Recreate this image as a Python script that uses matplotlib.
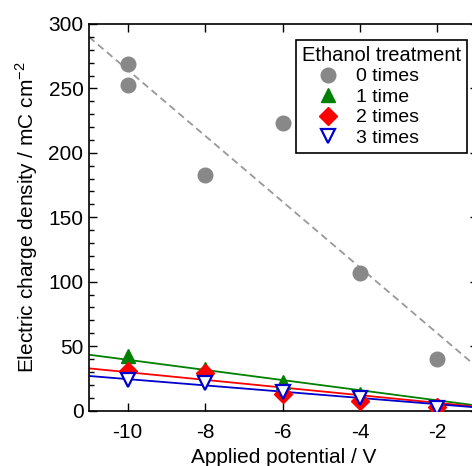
''' plot.py - electric charge density vs applied potential '''
import numpy as np
import matplotlib
matplotlib.use('Agg')
import matplotlib.pyplot as plt
from matplotlib.ticker import MultipleLocator

potential = [-10, -8, -6, -4, -2]
potential_0 = [-10, -10, -8, -6, -4, -2]

charge_0 = [269, 253, 183, 223, 107, 40]
charge_1 = [42, 32, 22, 13, 3]
charge_2 = [31, 29, 13, 7, 3]
charge_3 = [24, 21, 14, 10, 2]

labels = ['0 times', '1 time', '2 times', '3 times']


def origin_slope(x, y):
    ''' least squares slope for a line through the origin '''
    x = np.asarray(x, float)
    y = np.asarray(y, float)
    return np.sum(x * y) / np.sum(x * x)


def main():
    plt.rcParams['font.family'] = ['Liberation Sans', 'DejaVu Sans']
    plt.rcParams['mathtext.fontset'] = 'custom'
    plt.rcParams['mathtext.rm'] = 'Liberation Sans'
    plt.rcParams['axes.unicode_minus'] = False

    fig = plt.figure(figsize=(4.72, 4.66), dpi=100)
    # right spine sits just past the picture edge, as in the source
    ax = fig.add_axes([89 / 472, 1 - 410.5 / 466, 389 / 472, 386.5 / 466])

    xfit = np.array([-11, -0.9])

    # fitted lines
    p0 = np.polyfit(potential_0, charge_0, 1)
    ax.plot(xfit, np.polyval(p0, xfit), color='#999999', ls=(0, (4, 2.5)),
            lw=1.3, zorder=1)
    for y, c in [(charge_1, '#008000'), (charge_2, '#ff0000'),
                 (charge_3, '#0000cc')]:
        ax.plot(xfit, origin_slope(potential, y) * xfit, color=c, lw=1.3,
                zorder=1)

    # markers
    ax.plot(potential_0, charge_0, 'o', color='#888888', ms=10.5,
            label=labels[0], zorder=3)
    ax.plot(potential, charge_1, '^', color='#008000', ms=10,
            label=labels[1], zorder=3)
    ax.plot(potential, charge_2, 'D', color='#ff0000', ms=9,
            label=labels[2], zorder=3)
    ax.plot(potential, charge_3, 'v', mfc='white', mec='#0000cc', mew=1.6,
            ms=10, label=labels[3], zorder=4)

    ax.set_xlim(-11, -0.95)
    ax.set_ylim(0, 300)
    ax.set_xticks(potential)
    ax.yaxis.set_major_locator(MultipleLocator(50))
    ax.yaxis.set_minor_locator(MultipleLocator(10))
    ax.tick_params(which='both', direction='in', top=True, right=True,
                   labelsize=15, width=1)
    ax.tick_params(which='major', length=5.5)
    ax.tick_params(which='minor', length=3.5)
    ax.tick_params(axis='x', pad=9)
    ax.tick_params(axis='y', pad=4)
    for s in ax.spines.values():
        s.set_linewidth(1.2)

    ax.set_xlabel('Applied potential / V', fontsize=15, labelpad=4)
    ax.set_ylabel('Electric charge density / mC cm$^{-2}$', fontsize=15,
                  labelpad=6)

    leg = ax.legend(title='Ethanol treatment', loc='upper right',
                    bbox_to_anchor=(467 / 472, 1 - 40 / 466),
                    bbox_transform=fig.transFigure, borderaxespad=0,
                    fontsize=14, title_fontsize=14.5, frameon=True,
                    fancybox=False, edgecolor='black', framealpha=1,
                    handletextpad=0.1, labelspacing=0.15, borderpad=0.3,
                    handlelength=2.7, alignment='left')
    leg.get_frame().set_linewidth(1.2)

    fig.savefig('out.png', dpi=100)


if __name__ == '__main__':
    main()
